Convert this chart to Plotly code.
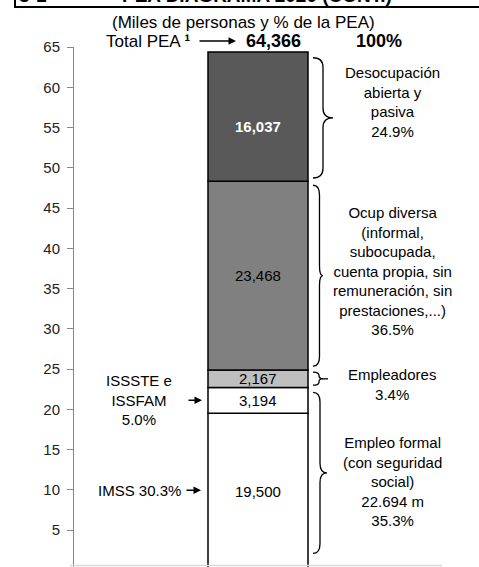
import plotly.graph_objects as go

# ---- data (thousands of people) ----
segments = ["IMSS", "ISSSTE e ISSFAM", "Empleadores", "Ocup diversa", "Desocupación"]
values = [19500, 3194, 2167, 23468, 16037]
colors = ["#ffffff", "#ffffff", "#bfbfbf", "#808080", "#595959"]
value_labels = ["19,500", "3,194", "2,167", "23,468", "16,037"]
total_label = "64,366"
y_ticks = [5, 10, 15, 20, 25, 30, 35, 40, 45, 50, 55, 60, 65]

FONT = "Liberation Sans, Arial, sans-serif"
W, H = 479, 567
L, R, T, B = 74, 37, 47, 0
BODY = 15

vals_m = [v / 1000 for v in values]
bottoms = []
acc = 0
for v in vals_m:
    bottoms.append(acc)
    acc += v
total_m = acc

fig = go.Figure()
for name, v, b, c in zip(segments, vals_m, bottoms, colors):
    fig.add_trace(go.Bar(x=[0], y=[v], base=[b], width=1, name=name,
                         marker=dict(color=c, line=dict(color="#000000", width=1.5)),
                         hoverinfo="skip", showlegend=False))

ann = []
# value labels inside bar
for i, (lab, v, b) in enumerate(zip(value_labels, vals_m, bottoms)):
    dark = i == 4
    ann.append(dict(x=0, y=b + v / 2, xref="x", yref="y", text=("<b>%s</b>" % lab) if dark else lab,
                    showarrow=False, xanchor="center", yanchor="middle",
                    font=dict(family=FONT, size=BODY, color="#ffffff" if dark else "#000000"),
                    yshift=-10 if dark else 0))

def px_to_py(py):
    return (H - py) / (H - T - B)

def px_to_px(pxx):
    return (pxx - L) / (W - L - R)

def pann(x, y, text, size=17, xanchor="center", yanchor="middle"):
    return dict(x=px_to_px(x), y=px_to_py(y), xref="paper", yref="paper", text=text,
                showarrow=False, xanchor=xanchor, yanchor=yanchor,
                font=dict(family=FONT, size=size, color="#000"))

# header texts
ann.append(pann(243, 23, "(Miles de personas y % de la PEA)"))
ann.append(pann(192, 41, "Total PEA <b>¹</b>", xanchor="right"))
ann.append(pann(273, 41, "<b>%s</b>" % total_label, size=18))
ann.append(pann(379, 41, "<b>100%</b>", size=18))
ann.append(dict(x=px_to_px(236), y=px_to_py(41), xref="paper", yref="paper",
                ax=-38, ay=0, text="", showarrow=True, arrowhead=2, arrowsize=1,
                arrowwidth=1.5, arrowcolor="#000"))
# cut-off title
ann.append(pann(257, 8, "<b>PEA DIAGRAMA 2020 (CONT.)</b>", size=19, yanchor="bottom"))
ann.append(pann(33, 8, "<b>3-1</b>", size=19, yanchor="bottom"))

# right side descriptions
xr = (392 - 258) / 100
rf = dict(family=FONT, size=BODY, color="#000")
def dann(x, y, text, xanchor="center"):
    return dict(x=x, y=y, xref="x", yref="y", showarrow=False, font=rf, text=text,
                xanchor=xanchor, yanchor="middle")
ann.append(dann(xr, (570 - 102) / 8.05, "Desocupación<br>abierta y<br>pasiva<br>24.9%"))
ann.append(dann(xr, (570 - 271) / 8.05,
                "Ocup diversa<br>(informal,<br>subocupada,<br>cuenta propia, sin<br>remuneración, sin<br>prestaciones,...)<br>36.5%"))
ann.append(dann(xr, (570 - 384.5) / 8.05, "Empleadores<br>3.4%"))
ann.append(dann(xr, (570 - 481) / 8.05, "Empleo formal<br>(con seguridad<br>social)<br>22.694 m<br>35.3%"))
# left side
ann.append(dann((139 - 258) / 100, (570 - 400) / 8.05, "ISSSTE e<br>ISSFAM<br>5.0%"))
ann.append(dann((183 - 258) / 100, (570 - 490) / 8.05, "IMSS 30.3%", xanchor="right"))
for y_px, x0p, x1p in [(490, 185, 201), (400, 187, 202)]:
    ann.append(dict(x=(x1p - 258) / 100, y=(570 - y_px) / 8.05, xref="x", yref="y",
                    ax=-(x1p - x0p), ay=0, text="", showarrow=True, arrowhead=2, arrowsize=1,
                    arrowwidth=1.5, arrowcolor="#000"))
# clipped zero tick label
ann.append(dict(x=0, y=0, xref="paper", yref="y", xanchor="right", yanchor="middle", xshift=-10, text="0",
                showarrow=False, font=dict(family=FONT, size=BODY, color="#222")))

def brace(ytop, ybot, x0, xm, xt, r=1.0):
    ym = (ytop + ybot) / 2
    return (f"M {x0},{ytop} Q {xm},{ytop} {xm},{ytop - r} L {xm},{ym + r} "
            f"Q {xm},{ym} {xt},{ym} Q {xm},{ym} {xm},{ym - r} L {xm},{ybot + r} "
            f"Q {xm},{ybot} {x0},{ybot}")

shapes = []
tops = [b + v for b, v in zip(bottoms, vals_m)]
bl = dict(color="#000", width=1.3)
shapes.append(dict(type="path", xref="x", yref="y", line=bl,
                   path=brace(tops[4] - 0.7, bottoms[4] + 0.4, 0.55, 0.65, 0.75, 1.2)))
shapes.append(dict(type="path", xref="x", yref="y", line=bl,
                   path=brace(tops[3] - 0.5, bottoms[3] + 0.5, 0.55, 0.615, 0.65, 1.2)))
shapes.append(dict(type="path", xref="x", yref="y", line=bl,
                   path=brace(tops[2] - 0.25, bottoms[2] + 0.3, 0.55, 0.61, 0.65, 0.4)))
ym3 = bottoms[2] + vals_m[2] / 2
shapes.append(dict(type="line", xref="x", yref="y", x0=0.64, x1=0.70, y0=ym3, y1=ym3, line=bl))
shapes.append(dict(type="path", xref="x", yref="y", line=bl,
                   path=brace(tops[1] - 0.6, 2.1, 0.55, 0.62, 0.69, 1.2)))
# header box lines
shapes.append(dict(type="line", xref="paper", yref="paper", x0=px_to_px(14), x1=px_to_px(480),
                   y0=px_to_py(7), y1=px_to_py(7), line=dict(color="#000", width=2)))
shapes.append(dict(type="line", xref="paper", yref="paper", x0=px_to_px(15), x1=px_to_px(15),
                   y0=px_to_py(7), y1=px_to_py(-2), line=dict(color="#000", width=2)))
# bottom light line
shapes.append(dict(type="line", xref="paper", yref="paper", x0=px_to_px(70), x1=px_to_px(442),
                   y0=px_to_py(565.5), y1=px_to_py(565.5), line=dict(color="#d9d9d9", width=1.5)))

fig.update_layout(
    width=W, height=H, margin=dict(l=L, r=R, t=T, b=B, pad=0),
    plot_bgcolor="#ffffff", paper_bgcolor="#ffffff",
    barmode="overlay", annotations=ann, shapes=shapes,
    xaxis=dict(range=[-1.84, 1.84], visible=False, fixedrange=True),
    yaxis=dict(range=[65 - (H - T - B) / 8.05, 65], tickvals=y_ticks, ticktext=[str(t) for t in y_ticks],
               showgrid=False, zeroline=False, showline=True, linecolor="#868686", linewidth=1,
               ticks="outside", ticklen=6, tickcolor="#868686", tickwidth=1, fixedrange=True,
               tickfont=dict(family=FONT, size=BODY, color="#222"), ticklabelstandoff=4),
    font=dict(family=FONT),
)
fig.write_html("out.html", config={"displayModeBar": False},
               post_script="document.body.style.margin='0';document.body.style.overflow='hidden';")
